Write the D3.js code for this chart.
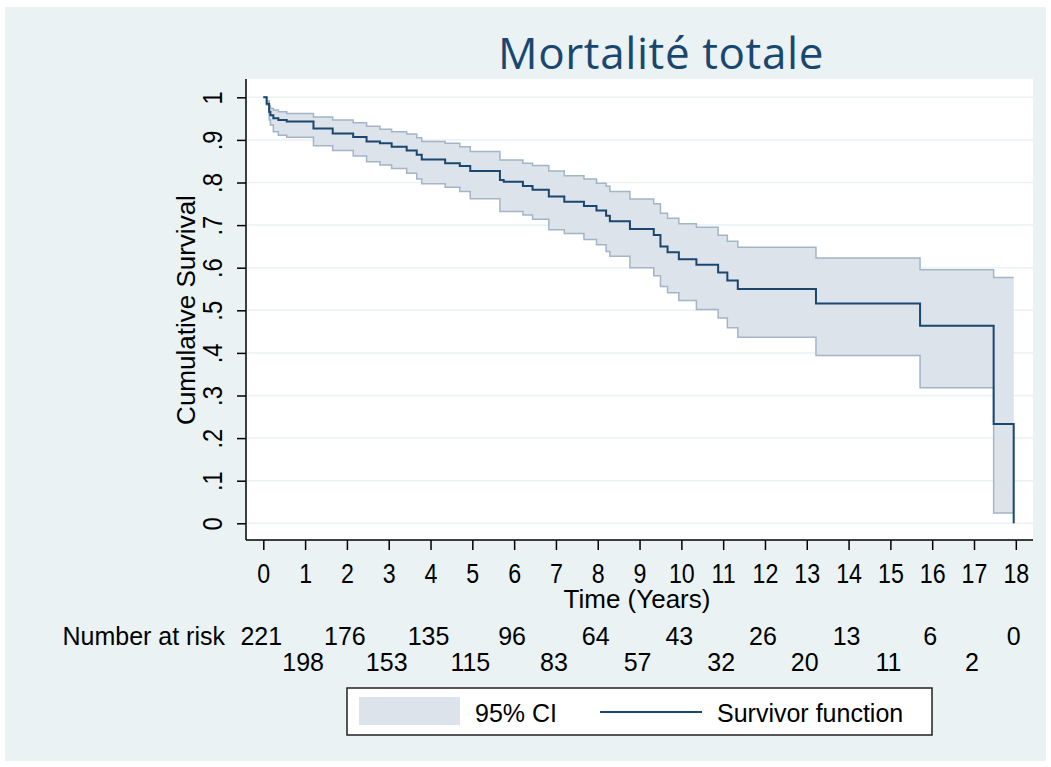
<!DOCTYPE html>
<html>
<head>
<meta charset="utf-8">
<script src="https://cdn.jsdelivr.net/npm/d3@7"></script>
<style>
	body { margin: 0; background: #ffffff; }
	text { font-family: "Liberation Sans", Arial, sans-serif; fill: #000; }
</style>
</head>
<body>
<div id="myKaplan"></div>
<script>
// step times (years) and estimates
let times =     [0, 0.08, 0.14, 0.17, 0.24, 0.36, 0.56, 1.20, 1.66, 2.15, 2.47, 2.79, 3.07, 3.43, 3.67, 3.79, 4.35, 4.70, 4.95, 5.66, 5.75, 6.21, 6.44, 6.83, 7.20, 7.67, 7.97, 8.20, 8.29, 8.77, 9.34, 9.50, 9.67, 9.94, 10.36, 10.88, 11.10, 11.35, 13.22, 15.71, 17.47, 17.95];
let survival =  [1, 0.985, 0.966, 0.958, 0.951, 0.947, 0.943, 0.927, 0.915, 0.907, 0.896, 0.892, 0.884, 0.875, 0.865, 0.854, 0.845, 0.839, 0.827, 0.806, 0.802, 0.792, 0.783, 0.767, 0.755, 0.745, 0.734, 0.722, 0.709, 0.691, 0.677, 0.650, 0.636, 0.620, 0.607, 0.589, 0.570, 0.550, 0.516, 0.464, 0.233, 0];
let lowerCI =   [1, 0.982, 0.947, 0.935, 0.919, 0.911, 0.906, 0.886, 0.875, 0.862, 0.849, 0.841, 0.833, 0.822, 0.808, 0.797, 0.789, 0.779, 0.762, 0.732, 0.732, 0.724, 0.714, 0.689, 0.680, 0.666, 0.654, 0.638, 0.627, 0.600, 0.581, 0.556, 0.541, 0.523, 0.502, 0.482, 0.459, 0.437, 0.394, 0.318, 0.024, 0.024];
let upperCI =   [1, 0.992, 0.980, 0.974, 0.970, 0.966, 0.962, 0.954, 0.947, 0.940, 0.932, 0.925, 0.919, 0.914, 0.905, 0.896, 0.892, 0.884, 0.873, 0.853, 0.853, 0.845, 0.840, 0.827, 0.816, 0.808, 0.798, 0.791, 0.779, 0.761, 0.750, 0.728, 0.716, 0.703, 0.695, 0.676, 0.662, 0.648, 0.623, 0.595, 0.577, 0.577];

// number at risk table
let riskYears = [0, 1, 2, 3, 4, 5, 6, 7, 8, 9, 10, 11, 12, 13, 14, 15, 16, 17, 18];
let riskCounts = [221, 198, 176, 153, 135, 115, 96, 83, 64, 57, 43, 32, 26, 20, 13, 11, 6, 2, 0];

let yTicks = [0, 0.1, 0.2, 0.3, 0.4, 0.5, 0.6, 0.7, 0.8, 0.9, 1];
let xTicks = d3.range(0, 19);

function plotSurvival() {
	var width = 1051, height = 767;
	var navy = '#1a476f';

	var svg = d3.select('#myKaplan')
		.append('svg')
		.attr('width', width)
		.attr('height', height);

	// graph region
	svg.append('rect')
		.attr('x', 5).attr('y', 7)
		.attr('width', 1041).attr('height', 754)
		.attr('fill', '#eaf2f3');

	// plot region
	svg.append('rect')
		.attr('x', 246).attr('y', 79)
		.attr('width', 787).attr('height', 461)
		.attr('fill', '#ffffff');

	var x = d3.scaleLinear().domain([0, 18]).range([263.3, 1015.8]);
	var y = d3.scaleLinear().domain([0, 1]).range([523.3, 97.3]);

	// grid lines
	svg.append('g')
		.selectAll('line')
		.data(yTicks)
		.enter().append('line')
		.attr('x1', 247).attr('x2', 1033)
		.attr('y1', d => y(d)).attr('y2', d => y(d))
		.attr('stroke', '#eaf2f3')
		.attr('stroke-width', 1.5);

	var pts = times.map((t, i) => ({t: t, s: survival[i], lo: lowerCI[i], hi: upperCI[i]}));

	// confidence band
	var band = d3.area()
		.curve(d3.curveStepAfter)
		.x(d => x(d.t))
		.y0(d => y(d.lo))
		.y1(d => y(d.hi));
	svg.append('path')
		.datum(pts)
		.attr('d', band)
		.attr('fill', '#dde3ea');

	['lo', 'hi'].forEach(function(k) {
		var edge = d3.line()
			.curve(d3.curveStepAfter)
			.x(d => x(d.t))
			.y(d => y(d[k]));
		svg.append('path')
			.datum(pts)
			.attr('d', edge)
			.attr('fill', 'none')
			.attr('stroke', '#a3b5c7')
			.attr('stroke-width', 1.5);
	});

	// survivor function
	var surv = d3.line()
		.curve(d3.curveStepAfter)
		.x(d => x(d.t))
		.y(d => y(d.s));
	svg.append('path')
		.datum(pts)
		.attr('d', surv)
		.attr('fill', 'none')
		.attr('stroke', navy)
		.attr('stroke-width', 2);

	// y axis
	var yAxis = svg.append('g')
		.attr('transform', 'translate(246,0)')
		.call(d3.axisLeft(y)
			.tickValues(yTicks)
			.tickSize(9)
			.tickPadding(0)
			.tickFormat(d => d === 0 ? '0' : d === 1 ? '1' : d3.format('.1f')(d).replace('0.', '.')));
	yAxis.select('.domain')
		.attr('d', 'M0,79V540')
		.attr('stroke', '#000')
		.attr('stroke-width', 1.5);
	yAxis.selectAll('.tick line').attr('stroke', '#000').attr('stroke-width', 1.5);
	yAxis.selectAll('.tick text')
		.attr('x', null).attr('dy', null)
		.attr('transform', 'translate(-24,0) rotate(-90) scale(0.88,1)')
		.attr('text-anchor', 'middle')
		.style('font-size', '27px')
		.style('font-family', '"Liberation Sans", Arial, sans-serif');

	// x axis
	var xAxis = svg.append('g')
		.attr('transform', 'translate(0,540)')
		.call(d3.axisBottom(x)
			.tickValues(xTicks)
			.tickSize(10)
			.tickPadding(0)
			.tickFormat(d3.format('d')));
	xAxis.select('.domain')
		.attr('d', 'M246,0H1033')
		.attr('stroke', '#000')
		.attr('stroke-width', 1.5);
	xAxis.selectAll('.tick line').attr('stroke', '#000').attr('stroke-width', 1.5);
	xAxis.selectAll('.tick text')
		.attr('y', 43).attr('dy', null)
		.attr('transform', 'scale(0.86,1)')
		.style('font-size', '27px')
		.style('font-family', '"Liberation Sans", Arial, sans-serif');

	// axis titles
	svg.append('text')
		.attr('transform', 'translate(195,310) rotate(-90)')
		.attr('text-anchor', 'middle')
		.style('font-size', '26px')
		.text('Cumulative Survival');
	svg.append('text')
		.attr('x', 637).attr('y', 608)
		.attr('text-anchor', 'middle')
		.style('font-size', '26px')
		.text('Time (Years)');

	// title
	svg.append('text')
		.attr('x', 661).attr('y', 69)
		.attr('text-anchor', 'middle')
		.style('font-family', '"Open Sans", sans-serif')
		.style('font-size', '44px')
		.style('letter-spacing', '0.6px')
		.style('fill', navy)
		.text('Mortalité totale');

	// number at risk
	svg.append('text')
		.attr('x', 225).attr('y', 645)
		.attr('text-anchor', 'end')
		.style('font-size', '25px')
		.text('Number at risk');
	svg.append('g')
		.selectAll('text')
		.data(riskYears)
		.enter().append('text')
		.attr('x', d => x(d) - 2)
		.attr('y', (d, i) => i % 2 === 0 ? 645 : 671)
		.attr('text-anchor', 'middle')
		.style('font-size', '25px')
		.text((d, i) => riskCounts[i]);

	// legend
	var legend = svg.append('g');
	legend.append('rect')
		.attr('x', 347).attr('y', 688)
		.attr('width', 585).attr('height', 47)
		.attr('fill', '#ffffff')
		.attr('stroke', '#222')
		.attr('stroke-width', 1.5);
	legend.append('rect')
		.attr('x', 359).attr('y', 697)
		.attr('width', 101).attr('height', 28)
		.attr('fill', '#dde3ea');
	legend.append('text')
		.attr('x', 475).attr('y', 722)
		.style('font-size', '25px')
		.text('95% CI');
	legend.append('line')
		.attr('x1', 600).attr('x2', 702)
		.attr('y1', 712).attr('y2', 712)
		.attr('stroke', navy)
		.attr('stroke-width', 2);
	legend.append('text')
		.attr('x', 717).attr('y', 722)
		.style('font-size', '25px')
		.text('Survivor function');
}

function init() {
	plotSurvival();
}

document.addEventListener('DOMContentLoaded', init, false);
</script>
</body>
</html>
